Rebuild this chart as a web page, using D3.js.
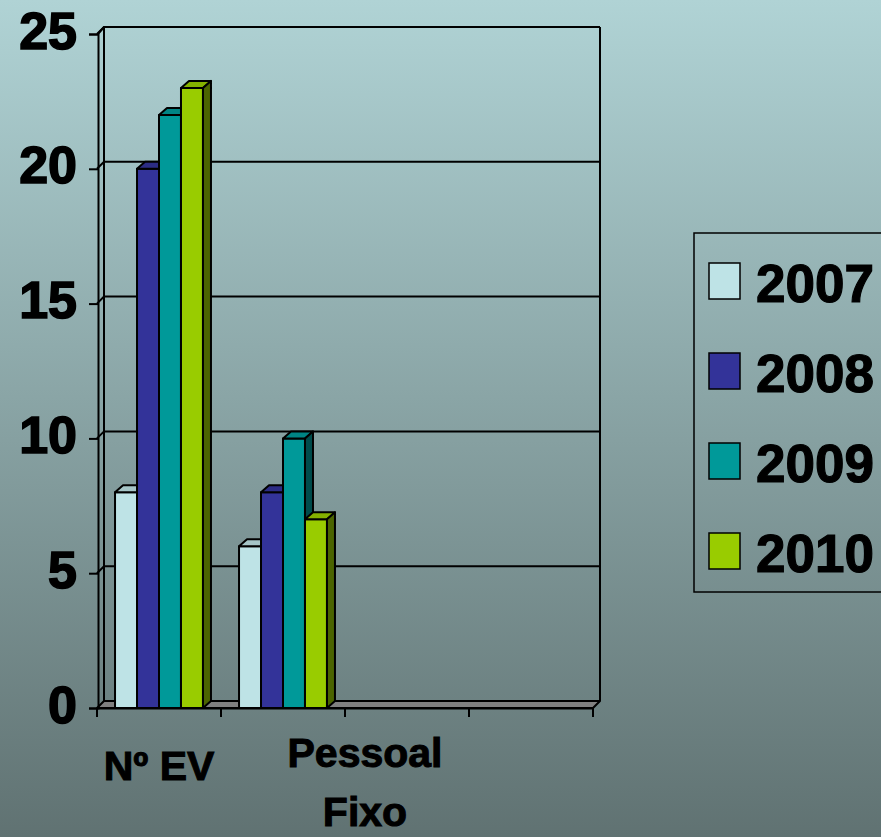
<!DOCTYPE html>
<html>
<head>
<meta charset="utf-8">
<script src="https://cdn.jsdelivr.net/npm/d3@7"></script>
<style>
  html, body { margin: 0; padding: 0; }
  body { width: 881px; height: 837px; overflow: hidden; }
  text { font-family: "Liberation Sans", Arial, sans-serif; font-weight: bold; }
</style>
</head>
<body>
<script>
// data
const categories = ["Nº EV", "Pessoal Fixo", "", ""];
const years = ["2007", "2008", "2009", "2010"];
const values = {
  "2007": [8, 6],
  "2008": [20, 8],
  "2009": [22, 10],
  "2010": [23, 7]
};
const yTicks = [0, 5, 10, 15, 20, 25];
const colors = ["#bee3e6", "#333399", "#009999", "#99cc00"];

const width = 881, height = 837;
const wall = {dx: 7, dy: -7};   // depth of back wall
const bd = {dx: 8, dy: -7};     // depth of a bar

const svg = d3.select("body").append("svg")
    .attr("width", width)
    .attr("height", height);

const grad = svg.append("defs").append("linearGradient")
    .attr("id", "bg").attr("x1", 0).attr("y1", 0).attr("x2", 0).attr("y2", 1);
grad.append("stop").attr("offset", 0).attr("stop-color", "#b0d3d5");
grad.append("stop").attr("offset", 1).attr("stop-color", "#607272");

svg.append("rect").attr("width", width).attr("height", height).attr("fill", "url(#bg)");

const x = d3.scaleBand().domain(d3.range(categories.length)).range([97, 593]);
const x1 = d3.scaleBand().domain(years).range([0, x.bandwidth()]).paddingOuter(0.82);
const y = d3.scaleLinear().domain([0, 25]).range([708, 34]);

const x0 = x.range()[0], xEnd = x.range()[1];
const y0 = y(0);

// floor
svg.append("path")
    .attr("d", `M${x0},${y0}L${xEnd},${y0}L${xEnd + wall.dx},${y0 + wall.dy}L${x0 + wall.dx},${y0 + wall.dy}Z`)
    .attr("fill", "#808080")
    .attr("stroke", "black")
    .attr("stroke-width", 2)
    .attr("stroke-linejoin", "round");

// gridlines on left + back wall
svg.append("g")
    .attr("fill", "none")
    .attr("stroke", "black")
    .attr("stroke-width", 2)
  .selectAll("path")
  .data(yTicks.slice(1))
  .join("path")
    .attr("d", d => `M${x0},${y(d)}L${x0 + wall.dx},${y(d) + wall.dy}L${xEnd + wall.dx},${y(d) + wall.dy}`);

// back wall edges
svg.append("path")
    .attr("d", `M${x0 + wall.dx},${y0 + wall.dy}V${y(25) + wall.dy}M${xEnd + wall.dx},${y0 + wall.dy}V${y(25) + wall.dy}`)
    .attr("fill", "none")
    .attr("stroke", "black")
    .attr("stroke-width", 2);

// bars
const bars = [];
categories.forEach((c, i) => {
  years.forEach((yr, j) => {
    const v = values[yr][i];
    if (v != null) bars.push({cat: i, year: yr, value: v, color: colors[j]});
  });
});

const bar = svg.append("g")
    .attr("stroke", "black")
    .attr("stroke-width", 2)
    .attr("stroke-linejoin", "round")
  .selectAll("g")
  .data(bars)
  .join("g");

bar.each(function(d) {
  const g = d3.select(this);
  const l = x(d.cat) + x1(d.year), r = l + x1.bandwidth();
  const t = y(d.value), b = y0;
  const c = d3.color(d.color);
  g.append("path") // front
      .attr("d", `M${l},${b}V${t}H${r}V${b}Z`)
      .attr("fill", c);
  g.append("path") // top
      .attr("d", `M${l},${t}L${l + bd.dx},${t + bd.dy}H${r + bd.dx}L${r},${t}Z`)
      .attr("fill", c.darker(0.4));
  g.append("path") // side
      .attr("d", `M${r},${b}V${t}L${r + bd.dx},${t + bd.dy}V${b + bd.dy}Z`)
      .attr("fill", c.darker(2));
});

// y axis
const yAxis = svg.append("g")
    .attr("transform", `translate(${x0 + 1},0)`)
    .call(d3.axisLeft(y).tickValues(yTicks).tickSize(9).tickPadding(12))
    .call(g => g.selectAll("path, line").attr("stroke", "black").attr("stroke-width", 2));
yAxis.selectAll("text")
    .attr("font-size", 52)
    .attr("font-family", "'Liberation Sans', Arial, sans-serif")
    .attr("font-weight", "bold")
    .attr("fill", "black")
    .attr("stroke", "black")
    .attr("stroke-width", 1.6)
    .attr("dy", "0.27em");
// top of left wall
svg.append("path")
    .attr("d", `M${x0 + 1},${y(25)}L${x0 + wall.dx},${y(25) + wall.dy}H${xEnd + wall.dx}`)
    .attr("fill", "none").attr("stroke", "black").attr("stroke-width", 2);

// x axis
svg.append("g")
    .attr("transform", `translate(0,${y0})`)
    .call(d3.axisBottom(x).tickSize(0).tickFormat(""))
    .call(g => g.select(".domain").attr("stroke", "black").attr("stroke-width", 2))
  .selectAll(".tick").remove();

svg.append("g")
    .attr("stroke", "black")
    .attr("stroke-width", 2)
  .selectAll("line")
  .data(d3.range(categories.length + 1))
  .join("line")
    .attr("x1", i => x0 + i * x.step())
    .attr("x2", i => x0 + i * x.step())
    .attr("y1", y0)
    .attr("y2", y0 + 9);

// category labels
const labelLines = [["Nº EV"], ["Pessoal", "Fixo"]];
const labelShift = [[0, 780], [82, 767]];
svg.append("g")
    .attr("font-size", 41)
    .attr("text-anchor", "middle")
    .attr("stroke", "black")
    .attr("stroke-width", 1)
  .selectAll("text")
  .data(labelLines)
  .join("text")
    .attr("x", (d, i) => x(i) + x.bandwidth() / 2 + labelShift[i][0])
    .attr("y", (d, i) => labelShift[i][1])
  .selectAll("tspan")
  .data(d => d)
  .join("tspan")
    .attr("x", function() { return this.parentNode.getAttribute("x"); })
    .attr("dy", (d, k) => k === 0 ? 0 : 59)
    .text(d => d);

// legend
const legend = svg.append("g").attr("transform", "translate(694,233)");
legend.append("rect")
    .attr("width", 200).attr("height", 359)
    .attr("fill", "none").attr("stroke", "black").attr("stroke-width", 1.5);
const item = legend.selectAll("g")
  .data(years)
  .join("g")
    .attr("transform", (d, i) => `translate(0,${30 + i * 90})`);
item.append("rect")
    .attr("x", 15).attr("width", 31).attr("height", 36)
    .attr("fill", (d, i) => colors[i])
    .attr("stroke", "black").attr("stroke-width", 1.5);
item.append("text")
    .attr("x", 62).attr("y", 39)
    .attr("font-size", 53)
    .attr("stroke", "black")
    .attr("stroke-width", 1.2)
    .text(d => d);
</script>
</body>
</html>
